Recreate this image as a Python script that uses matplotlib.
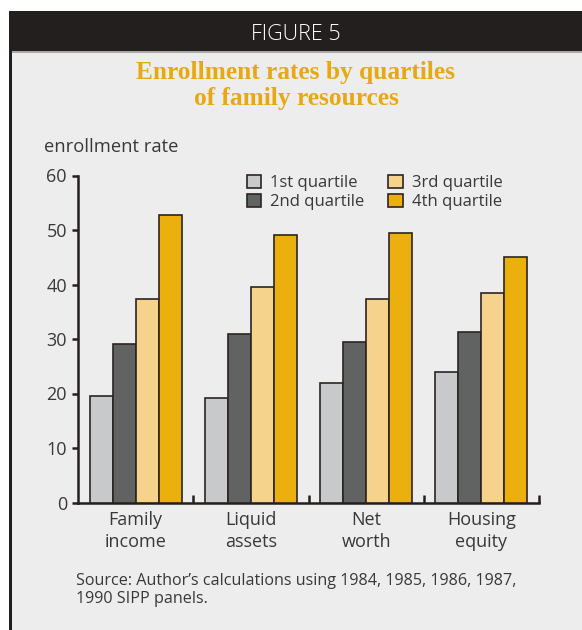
import matplotlib
matplotlib.use("Agg")
import matplotlib.pyplot as plt
from matplotlib.patches import Rectangle
import numpy as np

categories = ["Family\nincome", "Liquid\nassets", "Net\nworth", "Housing\nequity"]
series_names = ["1st quartile", "2nd quartile", "3rd quartile", "4th quartile"]
q1 = [19.6, 19.1, 22.0, 23.9]
q2 = [29.1, 31.0, 29.5, 31.2]
q3 = [37.4, 39.6, 37.3, 38.5]
q4 = [52.7, 49.1, 49.4, 45.1]
yticks = [0, 10, 20, 30, 40, 50, 60]

colors = ["#C8C9CA", "#616262", "#F5D38C", "#EBB00D"]
edge = "#2B2522"
bg = "#ECEDEC"
dark = "#231F1E"
txt = "#3A3838"
font = "Open Sans"

W, H = 582, 630
fig = plt.figure(figsize=(W / 100, H / 100), dpi=100)
fig.patch.set_facecolor("white")

def fx(px):
    return px / W

def fy(py):
    return 1 - py / H

# panel background
fig.patches.append(Rectangle((fx(10), 0), 1 - fx(10), fy(51), transform=fig.transFigure,
                             facecolor=bg, edgecolor="none", zorder=0))
# header bar
fig.patches.append(Rectangle((fx(9), fy(51)), 1 - fx(9), fy(11) - fy(51), transform=fig.transFigure,
                             facecolor=dark, edgecolor="none", zorder=1))
# thin gray line below header
fig.patches.append(Rectangle((fx(11), fy(52.5)), 1 - fx(11), fy(51) - fy(52.5), transform=fig.transFigure,
                             facecolor="#A9A9A7", edgecolor="none", zorder=1))
# left border
fig.patches.append(Rectangle((fx(8.5), 0), fx(3), fy(11), transform=fig.transFigure,
                             facecolor=dark, edgecolor="none", zorder=1))

fig.text(fx(296), fy(31.5), "FIGURE 5", color="white", fontsize=15.5, family=font,
         ha="center", va="center_baseline", fontweight="light")
fig.text(fx(296), fy(85.5), "Enrollment rates by quartiles\nof family resources", color="#E8A812",
         fontsize=18.3, family="Liberation Serif", fontweight="bold", ha="center", va="center",
         linespacing=1.12)
fig.text(fx(44), fy(147), "enrollment rate", color=txt, fontsize=13.2, family=font,
         ha="left", va="center")

ax = fig.add_axes([fx(78), fy(502.5), fx(539) - fx(78), fy(175.5) - fy(502.5)])
ax.set_facecolor("none")
ax.set_zorder(5)

x = np.arange(len(categories)) + 0.5
w = 0.2
data = [q1, q2, q3, q4]
handles = []
for i, (vals, c, name) in enumerate(zip(data, colors, series_names)):
    b = ax.bar(x + (i - 1.5) * w, vals, width=w, color=c, edgecolor=edge, linewidth=1.2,
               label=name, zorder=3)
    handles.append(b)

ax.set_xlim(0, 4)
ax.set_ylim(0, 60)
ax.set_yticks(yticks)
ax.set_yticklabels([str(t) for t in yticks], family=font, fontsize=13, color=txt)
ax.set_xticks([1, 2, 3, 4])
ax.set_xticklabels([])
ax.tick_params(axis="x", direction="in", length=6, width=1.8, color=dark)
ax.tick_params(axis="y", direction="out", length=4, width=1.8, color=dark, pad=4)
for s in ["top", "right"]:
    ax.spines[s].set_visible(False)
for s in ["left", "bottom"]:
    ax.spines[s].set_linewidth(1.8)
    ax.spines[s].set_color(dark)

for xi, cat in zip(x, categories):
    ax.text(xi, -1.6, cat, transform=ax.transData, ha="center", va="top", family=font,
            fontsize=13, color=txt, linespacing=1.28)

leg = fig.legend(handles=handles, labels=series_names, ncol=2, loc="upper left",
                 bbox_to_anchor=(fx(240), fy(168)), frameon=False,
                 prop={"family": font, "size": 12}, handlelength=0.85, handleheight=0.85,
                 handletextpad=0.55, columnspacing=1.45, labelspacing=0.15, borderaxespad=0)
for t in leg.get_texts():
    t.set_color(txt)

fig.text(fx(76), fy(590), "Source: Author\u2019s calculations using 1984, 1985, 1986, 1987,\n1990 SIPP panels.",
         color=txt, fontsize=11.6, family=font, ha="left", va="center", linespacing=1.2)

fig.savefig("out.png", dpi=100, facecolor=fig.get_facecolor())
